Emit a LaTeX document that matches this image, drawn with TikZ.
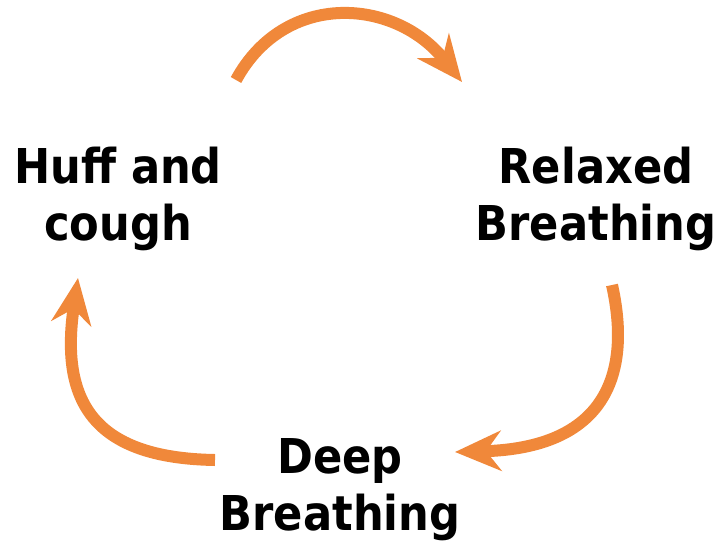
\documentclass[tikz,border=0pt]{standalone}
\usepackage{fontspec}
\setmainfont{DejaVu Sans}[FakeStretch=0.9]
\usetikzlibrary{arrows.meta}
\definecolor{arroworange}{RGB}{240,136,58}
\begin{document}
\begin{tikzpicture}[x=1pt,y=-1pt,
  lbl/.style={inner sep=0pt,anchor=base,align=center,font=\bfseries\fontsize{48}{57}\selectfont},
  cyc/.style={draw=arroworange,line width=12pt,-{Stealth[length=46pt,width=40pt,inset=15pt]}}]
\useasboundingbox (0,0) rectangle (719,541);
\node[lbl] (huff) at (118,240) {Huff and\\cough};
\node[lbl] (relax) at (596,240) {Relaxed\\Breathing};
\node[lbl] (deep) at (340,530) {Deep\\Breathing};
\coordinate (t1) at (236,80);
\coordinate (h1) at (462,82);
\coordinate (t2) at (612,285);
\coordinate (h2) at (455,452);
\coordinate (t3) at (215,460);
\coordinate (h3) at (78,278);
\draw[cyc] (t1) .. controls (285,-10) and (395,-2) .. (h1);
\draw[cyc] (t2) .. controls (632,375) and (605,448) .. (h2);
\draw[cyc] (t3) .. controls (92,458) and (60,400) .. (h3);
\end{tikzpicture}
\end{document}
